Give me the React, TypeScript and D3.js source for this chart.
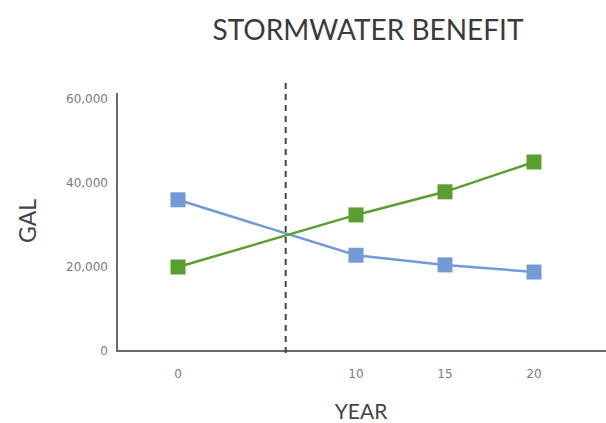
import React from "react";
import * as d3 from "d3";

const years = [0, 10, 15, 20];
const xTickLabels = ["0", "10", "15", "20"];
const seriesBlue = [36000, 22800, 20500, 18800];
const seriesGreen = [20000, 32400, 37900, 45000];
const yTicks = [0, 20000, 40000, 60000];
const crossoverYear = 6.05;

const W = 606;
const H = 423;

export default function App() {
  const x = d3.scaleLinear().domain([0, 20]).range([178, 534]);
  const y = d3.scaleLinear().domain([0, 60000]).range([351, 99]);
  const fmt = d3.format(",");

  const line = d3
    .line<number>()
    .x((_, i) => x(years[i]))
    .y((d) => y(d));

  const series = [
    { values: seriesBlue, color: "#729bd6" },
    { values: seriesGreen, color: "#5b9e30" },
  ];

  const sq = 15;
  const font = "Lato, 'DejaVu Sans', sans-serif";

  return (
    <svg
      width={W}
      height={H}
      style={{ position: "absolute", left: 0, top: 0, background: "#fff" }}
    >
      <text
        x={368}
        y={40}
        textAnchor="middle"
        fontFamily={font}
        fontSize={28}
        fill="#3a3a3a"
        textLength={311}
        lengthAdjust="spacingAndGlyphs"
      >
        STORMWATER BENEFIT
      </text>

      {/* axes */}
      <line x1={117} y1={93} x2={117} y2={351} stroke="#6a6a6a" strokeWidth={2} />
      <line x1={116} y1={351} x2={606} y2={351} stroke="#6a6a6a" strokeWidth={2} />

      {yTicks.map((t) => (
        <text
          key={t}
          x={108}
          y={y(t)}
          dy="0.35em"
          textAnchor="end"
          fontFamily="'DejaVu Sans', sans-serif"
          fontSize={12}
          fill="#7a7a7a"
        >
          {fmt(t)}
        </text>
      ))}

      {years.map((yr, i) => (
        <text
          key={yr}
          x={x(yr)}
          y={374}
          dy="0.35em"
          textAnchor="middle"
          fontFamily="'DejaVu Sans', sans-serif"
          fontSize={12}
          fill="#7a7a7a"
        >
          {xTickLabels[i]}
        </text>
      ))}

      <text
        transform={`translate(36,221) rotate(-90)`}
        textAnchor="middle"
        fontFamily={font}
        fontSize={23}
        fill="#444"
      >
        GAL
      </text>
      <text
        x={361}
        y={419}
        textAnchor="middle"
        fontFamily={font}
        fontSize={21}
        fill="#444"
      >
        YEAR
      </text>

      {/* crossover marker */}
      <line
        x1={x(crossoverYear)}
        y1={83}
        x2={x(crossoverYear)}
        y2={358}
        stroke="#444"
        strokeWidth={2}
        strokeDasharray="6 5"
      />

      {series.map((s, si) => (
        <g key={si}>
          <path
            d={line(s.values) || ""}
            fill="none"
            stroke={s.color}
            strokeWidth={2.5}
          />
          {s.values.map((v, i) => (
            <rect
              key={i}
              x={x(years[i]) - sq / 2}
              y={y(v) - sq / 2}
              width={sq}
              height={sq}
              fill={s.color}
            />
          ))}
        </g>
      ))}
    </svg>
  );
}
